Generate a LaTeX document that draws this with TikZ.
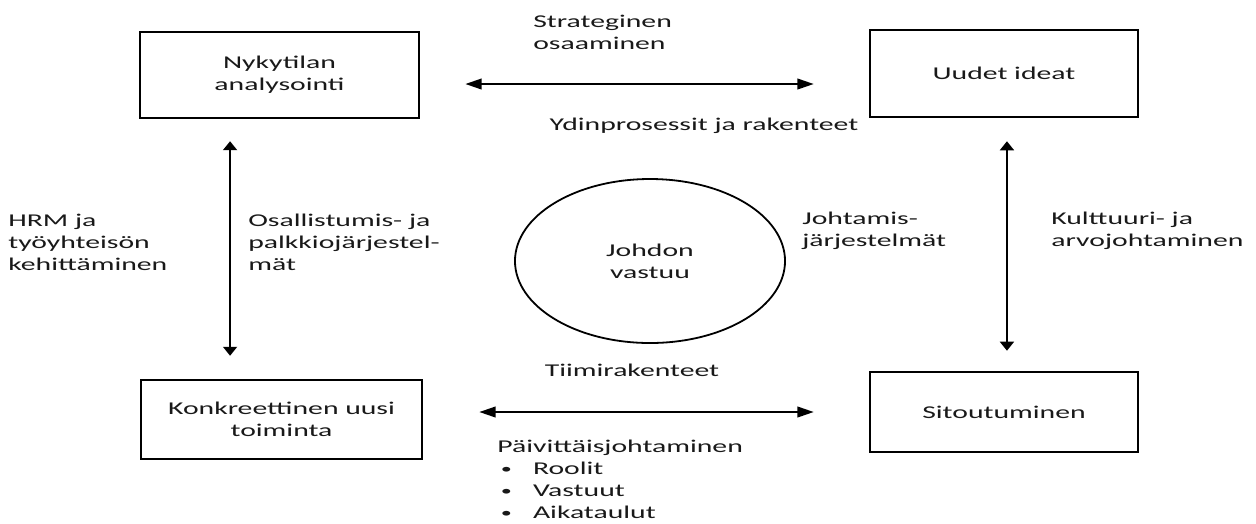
\documentclass[tikz,border=0pt]{standalone}
\usepackage{fontspec}
\setmainfont{Carlito}[FakeStretch=1.65]
\usetikzlibrary{arrows.meta,shapes.geometric}
% small bullet with its hanging indent
\newcommand\itembul{\makebox[21.8pt][l]{\hspace{2.2pt}\raisebox{0.4pt}{\scalebox{0.75}{•}}}}
\begin{document}
\begin{tikzpicture}[x=0.611pt,y=-0.611pt,
  every node/.style={font=\fontsize{11pt}{13.4pt}\selectfont, text=black!90, inner sep=0pt},
  stagebox/.style={draw=black, line width=1.6pt, align=center},
  hub/.style={ellipse, draw=black, line width=1.1pt, minimum width=165pt, minimum height=100.2pt, align=center},
  harrow/.style={line width=1.2pt, {Triangle[length=10pt,width=6.5pt]}-{Triangle[length=10pt,width=6.5pt]}},
  varrow/.style={line width=1.2pt, {Triangle[length=5.5pt,width=8.5pt]}-{Triangle[length=5.5pt,width=8.5pt]}},
  note/.style={align=left, anchor=west}]
\useasboundingbox (0,0) rectangle (1256,523);

% the four stages and the centre
\node[stagebox, minimum width=170.5pt, minimum height=52.5pt] (analysis) at (279.5,75) {Nykytilan\\analysointi};
\node[stagebox, minimum width=163.7pt, minimum height=53.2pt] (ideas) at (1004,73.5) {Uudet ideat};
\node[stagebox, minimum width=171.7pt, minimum height=48.3pt] (action) at (281.5,419.5) {Konkreettinen uusi\\toiminta};
\node[stagebox, minimum width=163.7pt, minimum height=48.9pt] (commit) at (1004,412) {Sitoutuminen};
\node[hub] (resp) at (650,261) {Johdon\\vastuu};

% two-way links between the stages
\draw[harrow, shorten <=27.5pt, shorten >=33.6pt] ([yshift=-5.5pt]analysis.east) -- ([yshift=-5.5pt]analysis.east -| ideas.west);
\draw[varrow, shorten <=13.4pt, shorten >=14pt] ([xshift=-30.2pt]analysis.south) -- ([xshift=-30.2pt]analysis.south |- action.north);
\draw[varrow, shorten <=14pt, shorten >=12.2pt] ([xshift=1.8pt]ideas.south) -- ([xshift=1.8pt]ideas.south |- commit.north);
\draw[harrow, shorten <=34.2pt, shorten >=33.6pt] (action.east |- commit.west) -- (commit.west);

% labels
\node[note] (strat) at (533,32) {Strateginen\\osaaminen};
\node[anchor=base] (core) at (704,130) {Ydinprosessit ja rakenteet};
\node[note] (hrm) at (8,242) {HRM ja\\työyhteisön\\kehittäminen};
\node[note] (reward) at (248,242) {Osallistumis- ja\\palkkiojärjestel-\\mät};
\node[note] (mgmt) at (802,231) {Johtamis-\\järjestelmät};
\node[note] (culture) at (1051,231) {Kulttuuri- ja\\arvojohtaminen};
\node[anchor=base] (team) at (632,376) {Tiimirakenteet};
\node[note] (daily) at (497,479) {Päivittäisjohtaminen\\\itembul Roolit\\\itembul Vastuut\\\itembul Aikataulut};
\end{tikzpicture}
\end{document}
